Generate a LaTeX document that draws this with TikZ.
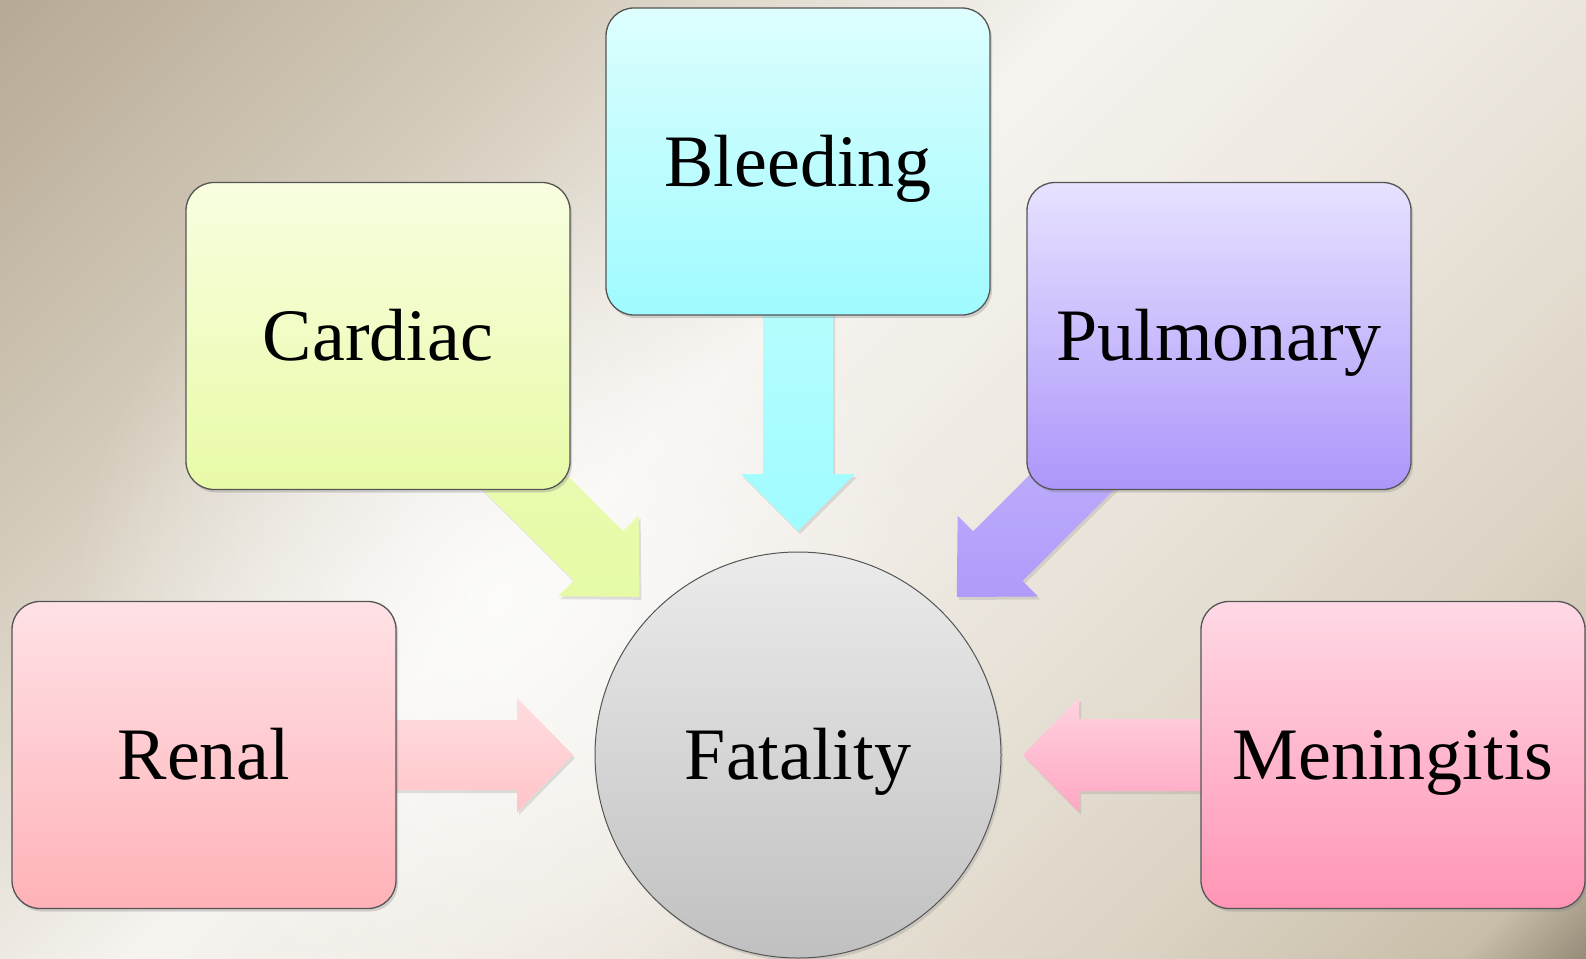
\documentclass[tikz,border=0pt]{standalone}
\usepackage{fontspec}
\setmainfont{Liberation Serif}
\usetikzlibrary{calc,shadows,fadings}
\definecolor{bgA}{HTML}{B8AB96}
\definecolor{bgB}{HTML}{D4CBBB}
\definecolor{bgC}{HTML}{F6F4F0}
\definecolor{bgD}{HTML}{EEE9E1}
\definecolor{bgE}{HTML}{DCD4C5}
\definecolor{bgF}{HTML}{C9BEA9}
\definecolor{bgG}{HTML}{8E8572}
\definecolor{boxline}{HTML}{555555}
\definecolor{bleedT}{HTML}{DEFEFE}\definecolor{bleedB}{HTML}{9FFBFF}
\definecolor{cardT}{HTML}{F8FEE0}\definecolor{cardB}{HTML}{E8FBA7}
\definecolor{pulmT}{HTML}{E7E2FF}\definecolor{pulmB}{HTML}{AD96FA}
\definecolor{renT}{HTML}{FFE2E6}\definecolor{renB}{HTML}{FFB2B8}
\definecolor{menT}{HTML}{FFD9E5}\definecolor{menB}{HTML}{FF95B5}
\definecolor{fatT}{HTML}{EBEBEB}\definecolor{fatB}{HTML}{C0C0C0}
\definecolor{abT}{HTML}{C4FEFF}\definecolor{abB}{HTML}{A0FCFF}
\definecolor{acT}{HTML}{EEFBBC}\definecolor{acB}{HTML}{E6FBA6}
\definecolor{apT}{HTML}{CBBEFD}\definecolor{apB}{HTML}{B09BFA}
\definecolor{arT}{HTML}{FFDDE0}\definecolor{arB}{HTML}{FFC4C8}
\definecolor{amT}{HTML}{FFD2DF}\definecolor{amB}{HTML}{FFA7C2}
\tikzfading[name=glowfade, inner color=transparent!0, outer color=transparent!100]
\pgfdeclarelayer{bglayer}
\pgfdeclarelayer{arrlayer}
\pgfsetlayers{bglayer,arrlayer,main}
\pgfdeclarehorizontalshading{bgshade}{100bp}{color(0bp)=(bgA); color(15bp)=(bgA); color(30bp)=(bgB); color(45bp)=(bgC); color(56bp)=(bgD); color(72bp)=(bgE); color(82bp)=(bgF); color(86bp)=(bgG); color(100bp)=(bgG)}
\tikzset{
  box/.style={rectangle, rounded corners=28pt, minimum width=384pt, minimum height=307pt,
    inner sep=0pt, draw=boxline, line width=1.3pt, text height=49pt, text depth=0pt,
    font=\fontsize{74}{80}\selectfont,
    drop shadow={opacity=0.3, shadow xshift=2pt, shadow yshift=-3pt}},
  ashadow/.style={drop shadow={opacity=0.22, shadow xshift=2pt, shadow yshift=-3pt}}
}
\newcommand\blockarr[6]{%
  \coordinate (ba-h) at ($(#2)!#5!(#1)$);
  \path[ashadow, #6] ($(#1)!#3!90:(#2)$) -- ($(ba-h)!#3!90:(#2)$) -- ($(ba-h)!#4!90:(#2)$)
    -- (#2) -- ($(ba-h)!#4!-90:(#2)$) -- ($(ba-h)!#3!-90:(#2)$) -- ($(#1)!#3!-90:(#2)$) -- cycle;
}
\begin{document}
\begin{tikzpicture}[x=1pt,y=-1pt]
\useasboundingbox (0,0) rectangle (1586,958);
\begin{pgfonlayer}{bglayer}
  \path[shading=bgshade, shading angle=-45] (0,0) rectangle (1586,958);
  \begin{scope}
    \clip (0,0) rectangle (1586,958);
    \fill[white, path fading=glowfade, opacity=0.75] (500,600) circle (430pt);
  \end{scope}
\end{pgfonlayer}

\node[box, top color=bleedT, bottom color=bleedB] (bleed) at (798,161.5) {Bleeding};
\node[box, top color=cardT, bottom color=cardB] (card) at (378,336) {Cardiac};
\node[box, top color=pulmT, bottom color=pulmB] (pulm) at (1219,336) {Pulmonary};
\node[box, top color=renT, bottom color=renB] (ren) at (204,755) {Renal};
\node[box, top color=menT, bottom color=menB] (men) at (1393,755) {Meningitis};
\node[circle, minimum size=406pt, inner sep=0pt, draw=boxline, line width=1pt,
      top color=fatT, bottom color=fatB, text height=49pt, text depth=0pt,
      font=\fontsize{74}{80}\selectfont,
      drop shadow={opacity=0.25, shadow xshift=2pt, shadow yshift=-3pt}] (fat) at (798,755) {Fatality};

\coordinate (tb) at ($(fat.center)!224pt!(bleed.center)$);
\coordinate (tc) at ($(fat.center)!224pt!(card.center)$);
\coordinate (tp) at ($(fat.center)!224pt!(pulm.center)$);
\coordinate (tr) at ($(fat.center)!225pt!(ren.center)$);
\coordinate (tm) at ($(fat.center)!225pt!(men.center)$);

\begin{pgfonlayer}{arrlayer}
  \blockarr{bleed.center}{tb}{35pt}{57pt}{57pt}{top color=abT, bottom color=abB}
  \blockarr{card.center}{tc}{35pt}{57pt}{58pt}{top color=acT, bottom color=acB}
  \blockarr{pulm.center}{tp}{35pt}{57pt}{58pt}{top color=apT, bottom color=apB}
  \blockarr{ren.center}{tr}{35pt}{57pt}{56pt}{top color=arT, bottom color=arB}
  \blockarr{men.center}{tm}{36pt}{57pt}{56pt}{top color=amT, bottom color=amB}
\end{pgfonlayer}
\end{tikzpicture}
\end{document}
